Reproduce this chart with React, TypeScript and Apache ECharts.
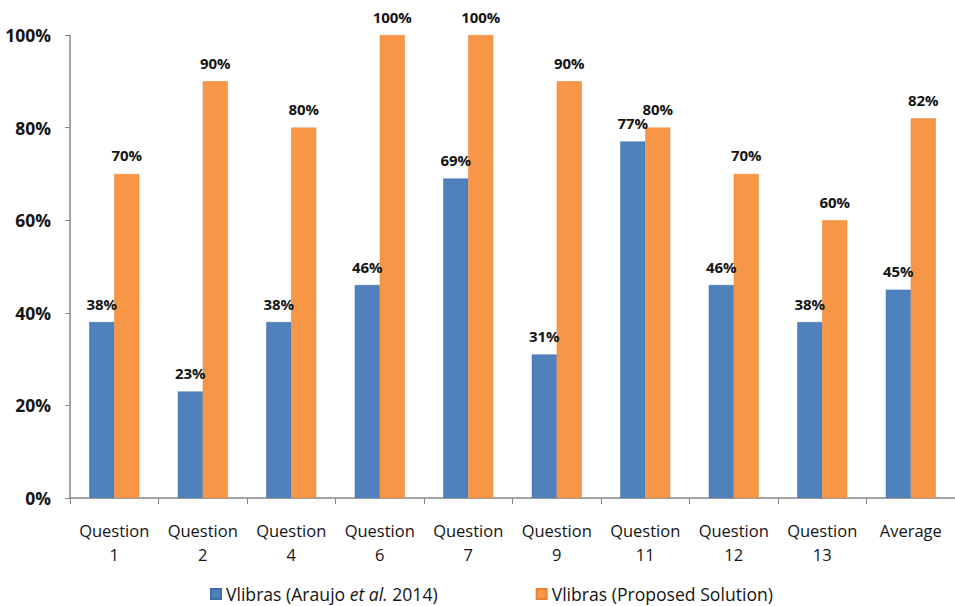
import React, { useEffect, useRef } from "react";
import * as echarts from "echarts";

const categories = ["Question\n1", "Question\n2", "Question\n4", "Question\n6", "Question\n7", "Question\n9", "Question\n11", "Question\n12", "Question\n13", "Average"];
const araujoValues = [38, 23, 38, 46, 69, 31, 77, 46, 38, 45];
const proposedValues = [70, 90, 80, 100, 100, 90, 80, 70, 60, 82];
const yTicks = [0, 20, 40, 60, 80, 100];
const seriesNames = ["Vlibras (Araujo et al. 2014)", "Vlibras (Proposed Solution)"];

const FONT = "'Open Sans', 'Liberation Sans', sans-serif";

export default function App() {
  const ref = useRef<HTMLDivElement>(null);
  useEffect(() => {
    document.body.style.margin = "0";
    if (!ref.current) return;
    const chart = echarts.init(ref.current, null, { renderer: "svg" });
    const labelCfg = {
      show: true,
      position: "top",
      distance: 11,
      formatter: (p: any) => `${p.value}%`,
      fontFamily: FONT,
      fontWeight: "bold",
      fontSize: 15,
      color: "#141414",
    };
    chart.setOption({
      animation: false,
      backgroundColor: "#ffffff",
      grid: { left: 70, right: 0, top: 35, bottom: 108, containLabel: false },
      legend: {
        top: 580,
        left: 205,
        itemWidth: 10,
        itemHeight: 10,
        itemGap: 98,
        icon: "rect",
        data: seriesNames,
        textStyle: {
          fontFamily: FONT,
          fontSize: 17.6,
          lineHeight: 18,
          color: "#141414",
          rich: { i: { fontStyle: "italic", fontFamily: FONT, fontSize: 17.6, lineHeight: 18, color: "#141414" } },
        },
        formatter: (name: string) =>
          name.includes("et al.") ? name.replace("et al.", "{i|et al.}") : name,
      },
      xAxis: {
        type: "category",
        data: categories,
        axisLine: { lineStyle: { color: "#868686", width: 1.5 } },
        axisTick: { show: true, alignWithLabel: false, length: 6, lineStyle: { color: "#868686" } },
        axisLabel: {
          interval: 0,
          fontFamily: FONT,
          fontSize: 16.5,
          color: "#141414",
          lineHeight: 24,
          margin: 20,
        },
      },
      yAxis: {
        type: "value",
        min: 0,
        max: 100,
        interval: 20,
        axisLine: { show: true, lineStyle: { color: "#868686", width: 1.5 } },
        axisTick: { show: true, length: 5, lineStyle: { color: "#868686" } },
        splitLine: { show: false },
        axisLabel: {
          formatter: (v: number) => (yTicks.includes(v) ? `${v}%` : ""),
          fontFamily: FONT,
          fontWeight: "bold",
          fontSize: 17.5,
          color: "#141414",
          margin: 19,
        },
      },
      series: [
        {
          name: seriesNames[0],
          type: "bar",
          data: araujoValues,
          barWidth: 25,
          barGap: "0%",
          itemStyle: { color: "#4F81BD", borderColor: "#3f6ea8", borderWidth: 0.5 },
          label: labelCfg,
        },
        {
          name: seriesNames[1],
          type: "bar",
          data: proposedValues,
          barWidth: 25,
          barGap: "0%",
          itemStyle: { color: "#F79646", borderColor: "#e8832f", borderWidth: 0.5 },
          label: labelCfg,
        },
      ],
    });
    return () => chart.dispose();
  }, []);
  return <div ref={ref} style={{ width: 955, height: 606 }} />;
}
